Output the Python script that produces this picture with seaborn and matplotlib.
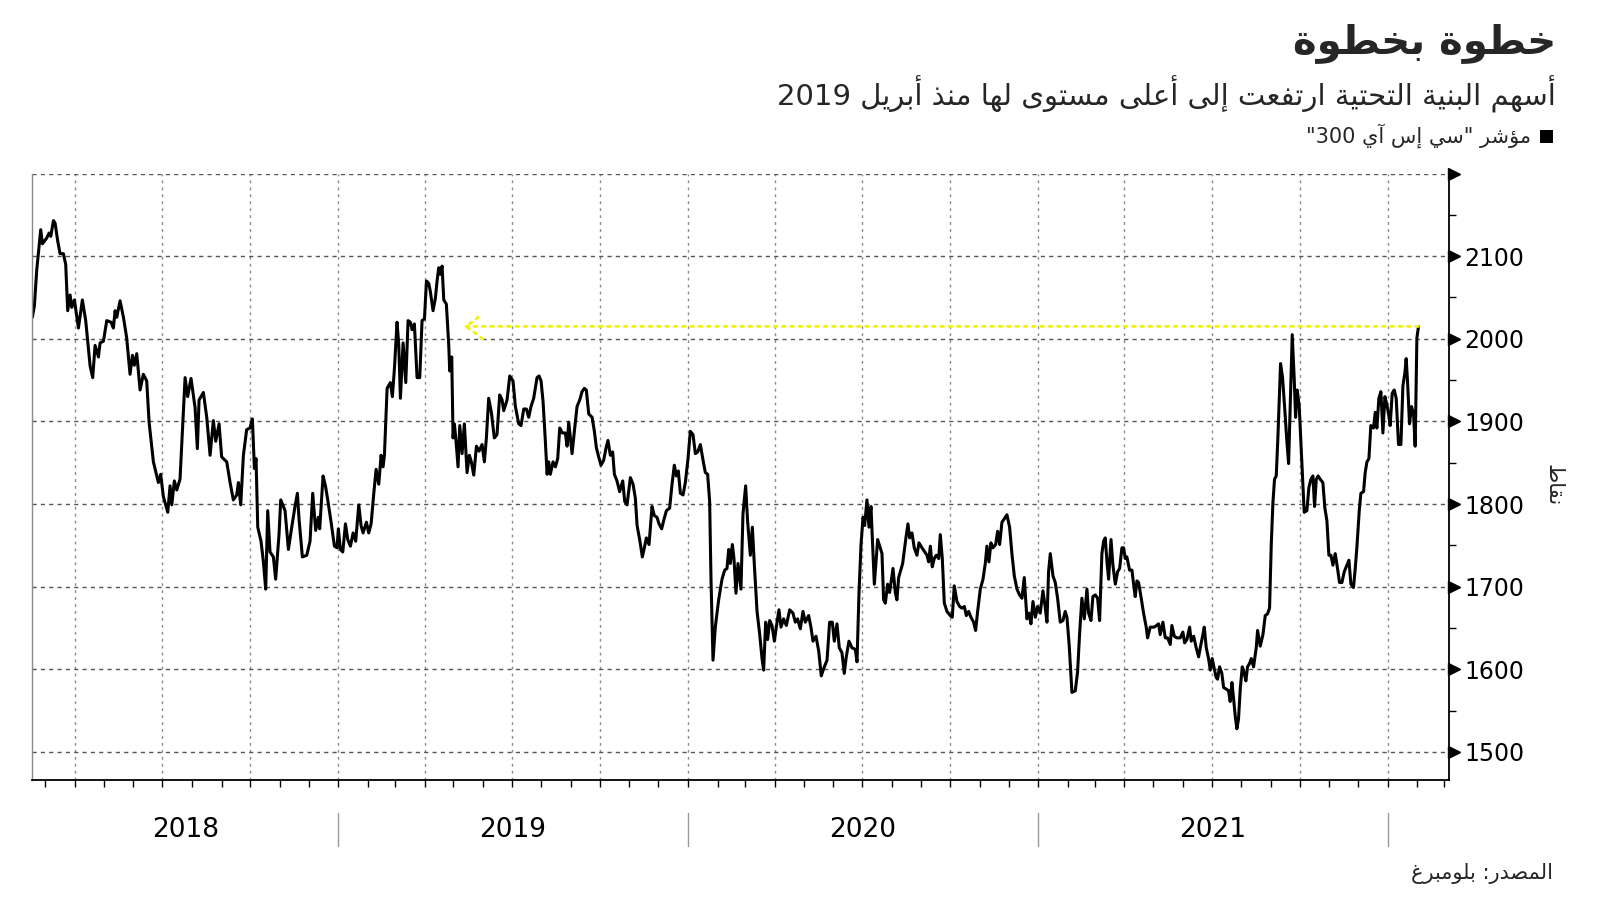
import re
import numpy as np
import pandas as pd
import matplotlib
matplotlib.use("Agg")
import matplotlib.pyplot as plt
import matplotlib.dates as mdates
from matplotlib.ticker import MultipleLocator, NullFormatter
from matplotlib.transforms import offset_copy, blended_transform_factory
from matplotlib.patches import Rectangle
import seaborn as sns

sns.set_theme(style="ticks")
plt.rcParams['font.family'] = ['DejaVu Sans']

# --- data: days since 2018-01-01, index level ---
DAYS = [
    45.4, 47.5, 50, 54.1, 55.9, 60.4, 62.8, 64.6, 67.4, 69.1, 71.9, 74.3, 77.8, 80.2, 82.3, 84.8, 86.5, 89.3,
    93.5, 97.6, 101.1, 105.7, 108.4, 110.9, 114.4, 116.1, 119.6, 123.1, 127.6, 130, 131.8, 133.5, 137, 140.5,
    143.9, 147.4, 149.9, 151.9, 154.4, 157.9, 161.3, 164.8, 167.3, 171.8, 177, 179.4, 182.2, 186.8, 189.2, 191,
    193.7, 196.2, 199.6, 204.9, 207.6, 211.1, 215.3, 217.7, 219.5, 224, 227.5, 231, 234.4, 236.9, 240.4, 243.1,
    248.4, 251.9, 255.3, 258.8, 260.6, 263, 265.8, 269.2, 272.7, 275.2, 277.3, 279, 280.8, 284.2, 286.7, 289.1,
    291.2, 293.6, 297.1, 299.5, 303, 304.8, 309.3, 312.8, 316.3, 319.7, 322.2, 323.9, 327.4, 332, 335.4, 338.2,
    341.3, 344.1, 345.5, 349, 351.5, 353.9, 357.4, 360.9, 363.6, 365, 367.1, 369.6, 372.4, 374.8, 377.6, 380.4,
    383.1, 386.3, 388.7, 390.8, 394.3, 396.7, 399.2, 402, 404.4, 407.2, 409.6, 411.7, 413.1, 415.9, 419.3, 421.4,
    423.5, 426.3, 428.1, 429.8, 432.6, 435.4, 437.8, 440.2, 442, 444.4, 447.2, 450, 452.4, 454.9, 457, 459.4,
    461.1, 463.9, 466.3, 468.1, 469.8, 471.6, 473.3, 475.1, 477.8, 480.3, 481.3, 483.4, 484.8, 486.2, 487.9, 490,
    491.8, 494.2, 496.6, 499.4, 501.8, 503.9, 506.4, 509.2, 511.9, 515.1, 517.5, 519.6, 522, 524.8, 527.9, 530.7,
    533.5, 536, 537.7, 541.2, 544, 547.4, 549.9, 553.4, 555.8, 558.6, 561.4, 563.8, 566.2, 569, 572.5, 574.6,
    576.7, 578.8, 581.2, 583, 584.7, 586.4, 589.2, 591.7, 594.1, 596.2, 599, 602.1, 603.9, 605.6, 607.3, 609.1,
    611.5, 614.3, 617.1, 619.5, 621.9, 624, 626.5, 630, 632.4, 634.5, 636.9, 639.3, 642.1, 644.6, 646.6, 649.1,
    651.5, 653.3, 656, 658.8, 662, 664.1, 666.5, 670, 672.8, 675.2, 677, 679.7, 682.5, 684.6, 686.7, 689.5,
    692.6, 695, 697.8, 699.9, 702.7, 704.8, 707.6, 711, 713.5, 715.9, 718, 720.1, 722.2, 725, 727.4, 730.2,
    732.6, 735.4, 737.9, 740.3, 743.1, 745.9, 748.3, 750.7, 752.8, 754.2, 756.3, 758.7, 762.2, 765.7, 768.5, 770.9,
    772.7, 774.4, 776.5, 778.2, 780.3, 782.4, 785.5, 787.6, 790.4, 792.5, 795.3, 797.4, 799.5, 802.3, 805, 807.5,
    809.2, 811.3, 813.4, 815.5, 817.9, 820.4, 822.4, 825.2, 827.3, 830.1, 832.9, 836.4, 839.8, 842.3, 844.7, 847.5,
    850.3, 852.7, 856.2, 858.6, 860.7, 863.9, 866.7, 869.4, 871.9, 875.4, 878.1, 880.9, 883, 885.8, 888.2, 891,
    893.4, 895.5, 898.3, 901.5, 905, 906.7, 908.8, 910.9, 913, 914.7, 917.1, 919.2, 921.3, 924.8, 928.3, 932.8,
    934.5, 936.3, 938.7, 940.8, 944.3, 946.7, 948.4, 950.2, 954.4, 957.8, 959.9, 961.7, 964.1, 966.5, 969.3, 971.4,
    974.6, 979.8, 981.5, 983.3, 985.3, 987.4, 989.5, 992, 993.7, 995.8, 997.9, 1000.7, 1004.1, 1006.2, 1008.3, 1011.1,
    1013.9, 1016.3, 1018.8, 1020.9, 1023.3, 1025.7, 1028.5, 1030.6, 1032.7, 1035.5, 1038.3, 1040.7, 1042.4, 1044.5, 1046.6, 1048.7,
    1051.5, 1053.6, 1055.7, 1058.1, 1060.5, 1063.3, 1066.1, 1068.5, 1071, 1073.8, 1076.5, 1079, 1081.4, 1084.2, 1086.3, 1088.4,
    1090.5, 1093, 1095.3, 1098.1, 1100.9, 1103, 1105.1, 1106.8, 1108.6, 1111.4, 1113.8, 1116.2, 1119, 1121.8, 1124.2, 1126,
    1128.4, 1131.2, 1134.7, 1137.1, 1139.2, 1141.6, 1144.1, 1146.9, 1148.6, 1151.1, 1153.1, 1155.6, 1158, 1160.1, 1162.5, 1164.3,
    1166, 1167.8, 1169.5, 1172, 1174, 1176.5, 1178.9, 1181, 1183.4, 1185.2, 1186.9, 1188.6, 1191.4, 1193.9, 1195.6, 1197.3,
    1199.1, 1200.8, 1203.3, 1206, 1208.8, 1210.2, 1213, 1217.2, 1221.7, 1223.4, 1226.2, 1228.7, 1231.1, 1233.9, 1235.6, 1238.1,
    1240.8, 1244.3, 1247.1, 1248.9, 1251.3, 1254.1, 1255.8, 1258.3, 1261, 1263.5, 1265.9, 1268, 1269.4, 1271.5, 1273.9, 1275.7,
    1277.7, 1279.8, 1281.9, 1283.3, 1285.4, 1287.8, 1289.6, 1292.4, 1294.8, 1296.5, 1298.3, 1300, 1301.8, 1303.5, 1305.2, 1307,
    1309.1, 1311.2, 1312.9, 1314.6, 1316.7, 1318.5, 1320.9, 1323.7, 1325.1, 1327.9, 1330.7, 1333.1, 1335.5, 1337.6, 1339.4, 1341.1,
    1342.8, 1344.6, 1346.3, 1347.7, 1349.1, 1351.2, 1353.3, 1355.7, 1357.5, 1359.2, 1361.3, 1363.4, 1364.8, 1366.5, 1368.6, 1370.3,
    1372.4, 1373.8, 1376.6, 1378.7, 1380.8, 1382.9, 1384.6, 1386.4, 1388.4, 1390.5, 1393.3, 1395.4, 1397.5, 1399.6, 1401.7, 1403.8,
    1406.2, 1408.6, 1410.7, 1413.2, 1415.6, 1418.4, 1420.5, 1422.6, 1425.3, 1427.1, 1428.8, 1431.3, 1433, 1435.8, 1437.5, 1439.3,
    1441.4, 1443.4, 1446.2, 1448, 1449.7, 1451.8, 1453.9, 1456, 1458.1, 1460.2, 1462.2, 1463.6, 1465.7, 1467.8, 1469.9, 1472.3,
    1474.8, 1476.9, 1479, 1480.3, 1481.7, 1483.8, 1485.9, 1488, 1489.7, 1491.5, 1493.2,
]
CSI300_INFRA = [
    2026, 2040, 2084, 2132, 2115, 2122, 2128, 2124, 2143, 2140, 2118, 2103, 2103, 2090, 2034, 2053, 2038, 2047,
    2013, 2047, 2022, 1967, 1953, 1992, 1978, 1995, 1997, 2022, 2020, 2013, 2034, 2026, 2046, 2026,
    2001, 1957, 1980, 1968, 1982, 1938, 1957, 1949, 1899, 1851, 1826, 1836, 1809, 1790, 1822, 1799,
    1828, 1817, 1830, 1953, 1930, 1952, 1917, 1867, 1926, 1935, 1905, 1859, 1901, 1876, 1897, 1857,
    1851, 1826, 1805, 1811, 1826, 1799, 1859, 1890, 1892, 1903, 1843, 1855, 1772, 1755, 1730, 1697,
    1792, 1742, 1736, 1709, 1763, 1805, 1792, 1745, 1772, 1797, 1813, 1782, 1736, 1738, 1755, 1813,
    1768, 1784, 1770, 1834, 1822, 1805, 1778, 1749, 1747, 1770, 1745, 1742, 1776, 1757, 1749, 1765,
    1755, 1799, 1774, 1765, 1778, 1765, 1776, 1813, 1842, 1824, 1859, 1845, 1859, 1940, 1947, 1930,
    1963, 2020, 1992, 1928, 1995, 1947, 2022, 2020, 2011, 2018, 1953, 1953, 2022, 2024, 2070, 2067,
    2057, 2034, 2049, 2070, 2086, 2078, 2088, 2047, 2042, 1992, 1961, 1978, 1880, 1897, 1876, 1845,
    1895, 1861, 1897, 1838, 1859, 1851, 1835, 1870, 1864, 1872, 1851, 1880, 1928, 1911, 1880, 1884,
    1932, 1926, 1913, 1926, 1955, 1949, 1918, 1897, 1895, 1915, 1915, 1905, 1918, 1928, 1953, 1955,
    1949, 1924, 1876, 1836, 1851, 1836, 1851, 1845, 1855, 1892, 1886, 1886, 1870, 1899, 1880, 1861,
    1888, 1918, 1926, 1936, 1940, 1938, 1909, 1905, 1888, 1868, 1857, 1847, 1853, 1868, 1877, 1859,
    1863, 1836, 1828, 1815, 1828, 1803, 1799, 1832, 1824, 1807, 1774, 1757, 1736, 1747, 1759, 1751,
    1797, 1786, 1784, 1776, 1770, 1780, 1792, 1795, 1824, 1847, 1834, 1840, 1813, 1811, 1826, 1855,
    1888, 1884, 1861, 1863, 1872, 1853, 1838, 1836, 1803, 1709, 1611, 1651, 1684, 1709, 1720, 1722,
    1745, 1728, 1751, 1734, 1692, 1728, 1697, 1788, 1822, 1778, 1738, 1772, 1726, 1670, 1643, 1613,
    1599, 1657, 1636, 1659, 1653, 1634, 1651, 1672, 1651, 1661, 1653, 1672, 1668, 1657, 1661, 1649,
    1670, 1657, 1665, 1651, 1634, 1640, 1622, 1592, 1601, 1611, 1657, 1657, 1634, 1655, 1626, 1620,
    1595, 1615, 1634, 1626, 1624, 1609, 1693, 1751, 1784, 1774, 1805, 1772, 1797, 1703, 1757, 1740,
    1684, 1680, 1703, 1693, 1722, 1693, 1684, 1711, 1728, 1759, 1776, 1759, 1765, 1747, 1738, 1753,
    1747, 1738, 1730, 1749, 1724, 1734, 1738, 1734, 1763, 1734, 1680, 1670, 1665, 1663, 1701, 1682,
    1676, 1674, 1676, 1665, 1670, 1663, 1657, 1647, 1670, 1697, 1709, 1728, 1749, 1730, 1753, 1747,
    1751, 1767, 1751, 1778, 1782, 1787, 1772, 1740, 1713, 1697, 1690, 1686, 1711, 1661, 1668, 1655,
    1682, 1663, 1676, 1668, 1695, 1678, 1657, 1718, 1740, 1713, 1705, 1686, 1657, 1659, 1670, 1663,
    1628, 1572, 1574, 1597, 1643, 1686, 1661, 1697, 1668, 1659, 1688, 1690, 1686, 1659, 1740, 1755,
    1759, 1730, 1709, 1757, 1726, 1703, 1718, 1722, 1747, 1747, 1734, 1736, 1720, 1720, 1703, 1688,
    1707, 1705, 1688, 1668, 1651, 1638, 1651, 1651, 1655, 1642, 1657, 1638, 1638, 1630, 1653, 1640,
    1638, 1638, 1645, 1632, 1636, 1651, 1634, 1640, 1626, 1615, 1630, 1642, 1651, 1626, 1613, 1599,
    1613, 1601, 1590, 1588, 1603, 1595, 1578, 1576, 1574, 1561, 1584, 1565, 1543, 1528, 1540, 1576,
    1603, 1595, 1586, 1603, 1607, 1613, 1603, 1626, 1647, 1628, 1642, 1665, 1667, 1674, 1751, 1801,
    1830, 1834, 1880, 1926, 1970, 1953, 1918, 1876, 1849, 1918, 2005, 1951, 1905, 1938, 1918, 1876,
    1822, 1790, 1792, 1820, 1830, 1834, 1797, 1830, 1834, 1830, 1826, 1795, 1780, 1738, 1738, 1726,
    1740, 1722, 1705, 1705, 1718, 1726, 1732, 1703, 1699, 1722, 1747, 1792, 1813, 1815, 1838, 1851,
    1855, 1895, 1892, 1911, 1892, 1928, 1936, 1886, 1930, 1920, 1907, 1895, 1934, 1938, 1928, 1872,
    1872, 1943, 1959, 1976, 1949, 1897, 1918, 1909, 1870, 2001, 2015,
]
YEARS = [2018, 2019, 2020, 2021]
Y_TICKS = [1500, 1600, 1700, 1800, 1900, 2000, 2100, 2200]
ARROW_TARGET = "2019-05-12"   # back to the April 2019 level

TITLE = "خطوة بخطوة"
SUBTITLE = "أسهم البنية التحتية ارتفعت إلى أعلى مستوى لها منذ أبريل 2019"
LEGEND = 'مؤشر "سي إس آي 300"'
Y_LABEL = "نقاط"
SOURCE = "المصدر: بلومبرغ"

# matplotlib 3.10 has no Arabic shaping -> small reshaper + RTL reorder
_LETTERS = "ءآأؤإئابةتثجحخدذرزسشصضطظعغفقكلمنهوىي"
_NFORMS = [1, 2, 2, 2, 2, 4, 2, 4, 2, 4, 4, 4, 4, 4, 2, 2, 2, 2, 4, 4, 4, 4, 4, 4, 4, 4, 4, 4, 4, 4, 4, 4, 4, 2, 2, 4]
FORMS = {}
_code = 0xFE80
for _ch, _n in zip(_LETTERS, _NFORMS):
    FORMS[_ch] = [chr(_code + k) for k in range(_n)]
    _code += _n
LAM_ALEF = {'آ': 0xFEF5, 'أ': 0xFEF7, 'إ': 0xFEF9, 'ا': 0xFEFB}


def _dual(c):
    return c in FORMS and len(FORMS[c]) == 4


def shape(text):
    out = []
    i = 0
    while i < len(text):
        c = text[i]
        if c not in FORMS:
            out.append(c)
            i += 1
            continue
        prev = text[i - 1] if i > 0 else ''
        jp = _dual(prev)
        if c == 'ل' and i + 1 < len(text) and text[i + 1] in LAM_ALEF:
            out.append(chr(LAM_ALEF[text[i + 1]] + (1 if jp else 0)))
            i += 2
            continue
        nxt = text[i + 1] if i + 1 < len(text) else ''
        jn = _dual(c) and nxt in FORMS and nxt != 'ء'
        f = FORMS[c]
        if len(f) == 1:
            out.append(f[0])
        elif jp and jn:
            out.append(f[3])
        elif jp:
            out.append(f[1])
        elif jn:
            out.append(f[2])
        else:
            out.append(f[0])
        i += 1
    return ''.join(out)


def rtl(text):
    runs = re.findall(r'[0-9A-Za-z]+|[^0-9A-Za-z]+', shape(text))
    return ''.join(r if r[0].isascii() and r[0].isalnum() else r[::-1] for r in reversed(runs))


df = pd.DataFrame({
    "date": pd.Timestamp("2018-01-01") + pd.to_timedelta(DAYS, unit="D"),
    "value": CSI300_INFRA,
})

fig = plt.figure(figsize=(16, 9.01), dpi=100)
ax = fig.add_axes([0.02, 0.1343, 0.8856, 0.6731])

sns.lineplot(data=df, x="date", y="value", ax=ax, color="black", linewidth=2.2,
             estimator=None, sort=False)

ax.set_xlim(pd.Timestamp("2018-02-15"), pd.Timestamp("2022-03-06"))
ax.set_ylim(1466, 2200)
ax.set_xlabel("")
ax.set_ylabel("")

# x: quarterly grid, monthly ticks, no labels
ax.xaxis.set_major_locator(mdates.MonthLocator(bymonth=[1, 4, 7, 10]))
ax.xaxis.set_minor_locator(mdates.MonthLocator())
ax.xaxis.set_major_formatter(NullFormatter())
ax.tick_params(axis="x", which="both", direction="out", length=5, width=1, color="black")

# y on the right
ax.yaxis.tick_right()
ax.set_yticks(Y_TICKS, labels=[str(t) for t in Y_TICKS[:-1]] + [""])
ax.yaxis.set_minor_locator(MultipleLocator(50))
ax.tick_params(axis="y", which="major", length=0, pad=11, labelsize=17, labelcolor="black")
ax.tick_params(axis="y", which="minor", length=5, width=1, color="black", direction="out")
tri = offset_copy(ax.get_yaxis_transform(), fig=fig, x=5, y=0, units="dots")
ax.plot([1.0] * len(Y_TICKS), Y_TICKS, transform=tri, ls="none", marker=">", ms=8,
        color="black", clip_on=False)

ax.grid(axis="x", which="major", linestyle=(0, (2, 3)), color="#8a8a8a", linewidth=1)
ax.grid(axis="y", which="major", linestyle=(0, (3, 3)), color="#555555", linewidth=1)

ax.spines["top"].set_visible(False)
ax.spines["left"].set_color("#8a8a8a")
ax.spines["left"].set_linewidth(1)
ax.spines["right"].set_color("black")
ax.spines["right"].set_linewidth(1.3)
ax.spines["bottom"].set_color("black")
ax.spines["bottom"].set_linewidth(1.3)

# yellow dotted arrow back to the April 2019 high
last_date = df["date"].iloc[-1]
last_val = df["value"].iloc[-1]
ax.annotate("", xy=(pd.Timestamp(ARROW_TARGET), last_val), xytext=(last_date, last_val),
            arrowprops=dict(arrowstyle="->, head_length=0.6, head_width=0.45", color="#f2f20a",
                            linestyle=(0, (1, 2)), linewidth=2, shrinkA=0, shrinkB=0,
                            mutation_scale=20))

# year labels and separators below the axis
xt = blended_transform_factory(ax.transData, ax.transAxes)
x0, x1 = ax.get_xlim()
bounds = [x0] + [mdates.date2num(pd.Timestamp(f"{y + 1}-01-01")) for y in YEARS]
for i, y in enumerate(YEARS):
    mid = (bounds[i] + bounds[i + 1]) / 2
    ax.text(mid, -0.082, str(y), transform=xt, ha="center", va="center", fontsize=19,
            color="black")
for b in bounds[1:]:
    ax.plot([b, b], [-0.054, -0.109], transform=xt, color="#9a9a9a", lw=1, clip_on=False)

# titles etc. (right aligned, Arabic)
fig.text(0.9725, 0.952, rtl(TITLE), ha="right", va="center", fontsize=29, fontweight="bold")
fig.text(0.9725, 0.8957, rtl(SUBTITLE), ha="right", va="center", fontsize=21)
fig.patches.append(Rectangle((0.9625, 0.8413), 0.0081, 0.0144, transform=fig.transFigure,
                             facecolor="black", edgecolor="none"))
fig.text(0.957, 0.849, rtl(LEGEND), ha="right", va="center", fontsize=15)
fig.text(0.971, 0.4617, rtl(Y_LABEL), ha="center", va="center", fontsize=15, rotation=270)
fig.text(0.9706, 0.03, rtl(SOURCE), ha="right", va="center", fontsize=15)

fig.savefig("out.png", dpi=100, facecolor="white")
plt.close(fig)
